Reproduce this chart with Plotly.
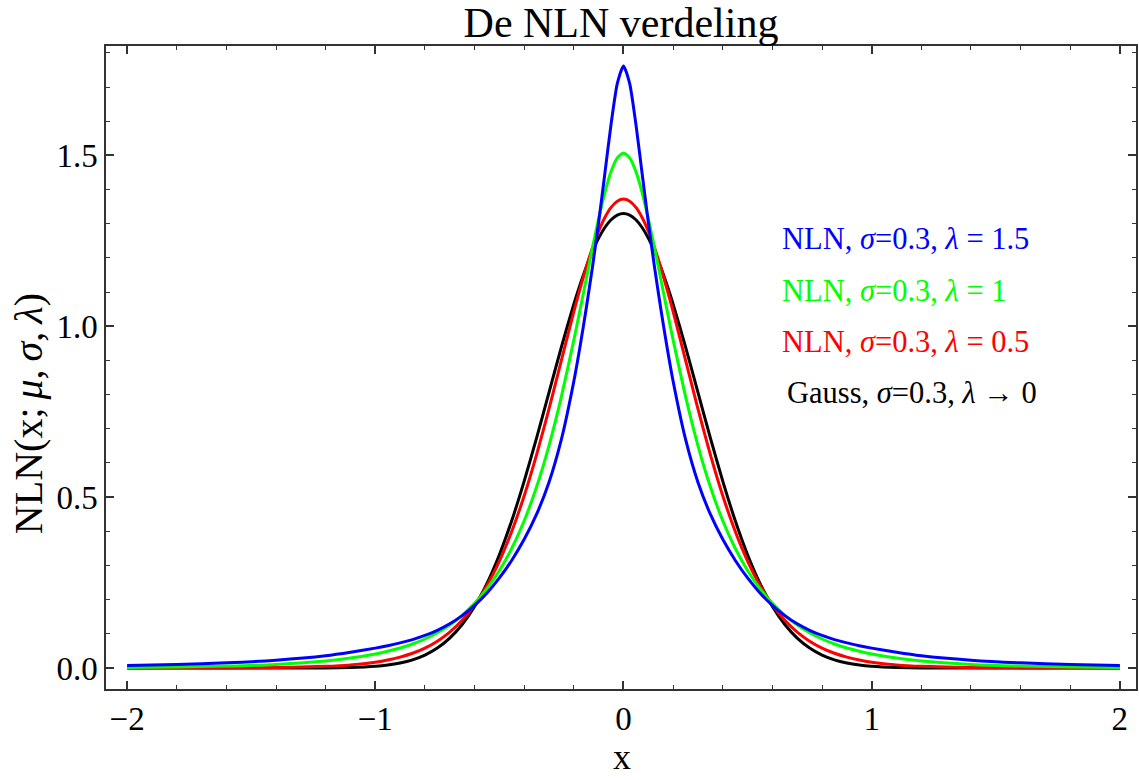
import plotly.graph_objects as go

# Sample positions along the x axis
x_vals = [-2.0, -1.8, -1.6, -1.4, -1.2, -1.1, -1.0, -0.95, -0.9, -0.85, -0.8, -0.75, -0.7,
          -0.65, -0.6, -0.55, -0.5, -0.45, -0.4, -0.35, -0.3, -0.25, -0.2, -0.175, -0.15,
          -0.125, -0.1, -0.075, -0.05, -0.025, 0.0, 0.025, 0.05, 0.075, 0.1, 0.125, 0.15,
          0.175, 0.2, 0.25, 0.3, 0.35, 0.4, 0.45, 0.5, 0.55, 0.6, 0.65, 0.7, 0.75, 0.8,
          0.85, 0.9, 0.95, 1.0, 1.1, 1.2, 1.4, 1.6, 1.8, 2.0]

# NLN density, sigma = 0.3, lambda = 1.5
nln_l15 = [0.0072, 0.0103, 0.0151, 0.0229, 0.0357, 0.0459, 0.0582, 0.0654, 0.0735, 0.0832,
           0.0953, 0.1104, 0.1294, 0.1533, 0.1831, 0.2197, 0.2636, 0.3155, 0.3765, 0.4500,
           0.5435, 0.6695, 0.8392, 0.9410, 1.0525, 1.1731, 1.3044, 1.4473, 1.5913, 1.7098,
           1.7618,
           1.7098, 1.5913, 1.4473, 1.3044, 1.1731, 1.0525, 0.9410, 0.8392, 0.6695, 0.5435,
           0.4500, 0.3765, 0.3155, 0.2636, 0.2197, 0.1831, 0.1533, 0.1294, 0.1104, 0.0953,
           0.0832, 0.0735, 0.0654, 0.0582, 0.0459, 0.0357, 0.0229, 0.0151, 0.0103, 0.0072]

# NLN density, sigma = 0.3, lambda = 1
nln_l10 = [0.0018, 0.0031, 0.0056, 0.0105, 0.0202, 0.0290, 0.0410, 0.0489, 0.0585, 0.0703,
           0.0849, 0.1031, 0.1259, 0.1542, 0.1892, 0.2324, 0.2854, 0.3505, 0.4309, 0.5301,
           0.6510, 0.7948, 0.9598, 1.0485, 1.1391, 1.2292, 1.3149, 1.3913, 1.4527, 1.4928,
           1.5069,
           1.4928, 1.4527, 1.3913, 1.3149, 1.2292, 1.1391, 1.0485, 0.9598, 0.7948, 0.6510,
           0.5301, 0.4309, 0.3505, 0.2854, 0.2324, 0.1892, 0.1542, 0.1259, 0.1031, 0.0849,
           0.0703, 0.0585, 0.0489, 0.0410, 0.0290, 0.0202, 0.0105, 0.0056, 0.0031, 0.0018]

# NLN density, sigma = 0.3, lambda = 0.5
nln_l05 = [0.0000, 0.0001, 0.0004, 0.0014, 0.0049, 0.0092, 0.0172, 0.0234, 0.0319, 0.0432,
           0.0584, 0.0786, 0.1052, 0.1400, 0.1848, 0.2418, 0.3130, 0.4002, 0.5042, 0.6246,
           0.7585, 0.9007, 1.0425, 1.1098, 1.1727, 1.2294, 1.2785, 1.3184, 1.3478, 1.3659,
           1.3720,
           1.3659, 1.3478, 1.3184, 1.2785, 1.2294, 1.1727, 1.1098, 1.0425, 0.9007, 0.7585,
           0.6246, 0.5042, 0.4002, 0.3130, 0.2418, 0.1848, 0.1400, 0.1052, 0.0786, 0.0584,
           0.0432, 0.0319, 0.0234, 0.0172, 0.0092, 0.0049, 0.0014, 0.0004, 0.0001, 0.0000]

# Gaussian limit, sigma = 0.3
gauss = [0.0000, 0.0000, 0.0000, 0.0000, 0.0004, 0.0016, 0.0051, 0.0088, 0.0148, 0.0240,
         0.0380, 0.0584, 0.0874, 0.1272, 0.1800, 0.2477, 0.3316, 0.4317, 0.5467, 0.6733,
         0.8066, 0.9397, 1.0648, 1.1218, 1.1736, 1.2192, 1.2579, 1.2889, 1.3115, 1.3252,
         1.3298,
         1.3252, 1.3115, 1.2889, 1.2579, 1.2192, 1.1736, 1.1218, 1.0648, 0.9397, 0.8066,
         0.6733, 0.5467, 0.4317, 0.3316, 0.2477, 0.1800, 0.1272, 0.0874, 0.0584, 0.0380,
         0.0240, 0.0148, 0.0088, 0.0051, 0.0016, 0.0004, 0.0000, 0.0000, 0.0000, 0.0000]

series_labels = [
    "NLN, <i>σ</i>=0.3, <i>λ</i> = 1.5",
    "NLN, <i>σ</i>=0.3, <i>λ</i> = 1",
    "NLN, <i>σ</i>=0.3, <i>λ</i> = 0.5",
    "Gauss, <i>σ</i>=0.3, <i>λ</i> → 0",
]
series_colors = ["#0000ff", "#00ff00", "#ff0000", "#000000"]

x_ticks = [-2, -1, 0, 1, 2]
y_ticks = [0.0, 0.5, 1.0, 1.5]
y_ticktext = ["0.0", "0.5", "1.0", "1.5"]

SERIF = "Liberation Serif, Times New Roman, serif"
FRAME = "#333333"

W, H = 1139, 780
L, R, T, B = 106, 1, 46, 91
plot_w = W - L - R
plot_h = H - T - B

fig = go.Figure()

# draw Gauss first, steepest NLN last (on top)
for ys, color in [(gauss, series_colors[3]), (nln_l05, series_colors[2]),
                  (nln_l10, series_colors[1]), (nln_l15, series_colors[0])]:
    fig.add_trace(go.Scatter(
        x=x_vals, y=ys, mode="lines",
        line=dict(color=color, width=3, shape="spline", smoothing=0.6),
        showlegend=False, hoverinfo="skip",
    ))


def px_to_paper(px, py):
    return (px - L) / plot_w, (H - B - py) / plot_h


# text labels for the curves
label_pos = [(781, 239), (781, 291), (781, 342), (786, 393)]
for text, color, (px, py) in zip(series_labels, series_colors, label_pos):
    xp, yp = px_to_paper(px, py)
    fig.add_annotation(x=xp, y=yp, xref="paper", yref="paper", text=text,
                       showarrow=False, xanchor="left", yanchor="middle",
                       font=dict(family=SERIF, size=30.5, color=color))

# axis titles
xp, yp = px_to_paper(623, 757)
fig.add_annotation(x=xp, y=yp, xref="paper", yref="paper", text="x",
                   showarrow=False, xanchor="center", yanchor="middle",
                   font=dict(family=SERIF, size=36, color="black"))
xp, yp = px_to_paper(28, 414)
fig.add_annotation(x=xp, y=yp, xref="paper", yref="paper",
                   text="NLN(x;\u2009<i>μ</i>,\u2009<i>σ</i>,\u2009<i>λ</i>)", textangle=-90,
                   showarrow=False, xanchor="center", yanchor="middle",
                   font=dict(family=SERIF, size=40, color="black"))

axis_common = dict(
    ticks="inside", ticklen=8, tickwidth=1.5, tickcolor=FRAME,
    showline=True, linecolor=FRAME, linewidth=1.5, mirror="allticks",
    showgrid=False, zeroline=False,
    tickfont=dict(family=SERIF, size=33, color="black"),
)

fig.update_layout(
    width=W, height=H,
    margin=dict(l=L, r=R, t=T, b=B),
    paper_bgcolor="white", plot_bgcolor="white",
    showlegend=False,
    title=dict(text="De NLN verdeling", x=0.5, xref="paper", xanchor="center",
               y=1 - 22 / H, yref="container", yanchor="middle",
               font=dict(family=SERIF, size=42, color="black")),
    xaxis=dict(range=[-2.085, 2.065], tickvals=x_ticks,
               minor=dict(dtick=0.2, tick0=0, ticks="inside", ticklen=4.5,
                          tickwidth=1.2, tickcolor=FRAME, showgrid=False),
               **axis_common),
    yaxis=dict(range=[-0.0614, 1.82], tickvals=y_ticks, ticktext=y_ticktext,
               minor=dict(dtick=0.1, tick0=0, ticks="inside", ticklen=4.5,
                          tickwidth=1.2, tickcolor=FRAME, showgrid=False),
               **axis_common),
)

fig.write_html("out.html")
